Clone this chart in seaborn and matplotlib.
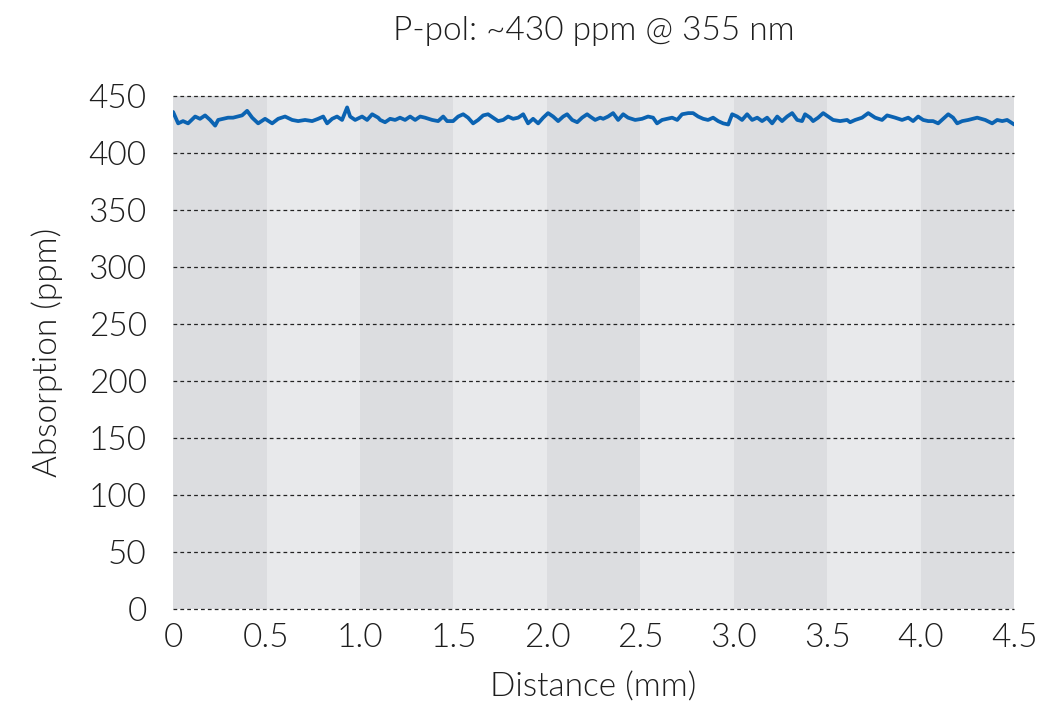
import matplotlib
matplotlib.use("Agg")
import matplotlib.pyplot as plt
import seaborn as sns
import pandas as pd

# Measured absorption profile along the sample
distance_mm = [
    0.000, 0.027, 0.053, 0.080, 0.118, 0.144, 0.171, 0.198, 0.225, 0.241,
    0.268, 0.294, 0.321, 0.369, 0.396, 0.423, 0.455, 0.492, 0.530, 0.562,
    0.599, 0.637, 0.669, 0.706, 0.744, 0.776, 0.803, 0.824, 0.851, 0.877,
    0.904, 0.931, 0.947, 0.974, 1.011, 1.038, 1.065, 1.097,
    1.108, 1.134, 1.161, 1.188, 1.214, 1.241, 1.268, 1.295, 1.322, 1.348,
    1.386, 1.418, 1.445, 1.466, 1.498, 1.525, 1.552, 1.578, 1.605, 1.632,
    1.659, 1.685, 1.712, 1.739, 1.766, 1.792, 1.819, 1.846, 1.873, 1.899,
    1.926, 1.953, 1.980, 2.006, 2.033, 2.060, 2.087, 2.108, 2.135, 2.162,
    2.188, 2.215,
    2.231, 2.258, 2.285, 2.301, 2.327, 2.354, 2.381, 2.408, 2.434, 2.472,
    2.509, 2.541, 2.568, 2.589, 2.616, 2.643, 2.670, 2.697, 2.723, 2.756,
    2.782, 2.809, 2.836, 2.862, 2.889, 2.916, 2.943, 2.970, 2.991, 3.018,
    3.044, 3.071, 3.098, 3.125, 3.151, 3.178, 3.205, 3.232, 3.258, 3.285,
    3.312, 3.339,
    3.365, 3.381, 3.408, 3.424, 3.451, 3.478, 3.505, 3.531, 3.569, 3.606,
    3.622, 3.649, 3.686, 3.719, 3.756, 3.793, 3.820, 3.863, 3.900, 3.933,
    3.959, 3.986, 4.013, 4.040, 4.066, 4.093, 4.120, 4.147, 4.173, 4.195,
    4.222, 4.254, 4.302, 4.345, 4.382, 4.409, 4.436, 4.462, 4.500,
]
absorption_ppm = [
    436, 426, 428, 426, 432, 430, 433, 429, 424, 429,
    430, 431, 431, 433, 437, 431, 426, 430, 426, 430,
    432, 429, 428, 429, 428, 430, 432, 426, 430, 432,
    429, 440, 432, 429, 432, 429, 434, 431,
    429, 427, 430, 429, 431, 429, 432, 429, 432, 431,
    429, 428, 432, 428, 428, 432, 434, 431, 426, 429,
    433, 434, 431, 428, 429, 432, 430, 431, 434, 426,
    430, 426, 431, 435, 432, 428, 432, 434, 429, 427,
    431, 434,
    432, 429, 431, 430, 432, 435, 429, 434, 431, 429,
    430, 432, 431, 426, 429, 430, 431, 429, 434, 435,
    435, 432, 430, 429, 431, 428, 426, 425, 434, 432,
    429, 434, 429, 431, 428, 431, 426, 432, 428, 432,
    435, 429,
    428, 434, 431, 428, 431, 435, 432, 429, 428, 429,
    427, 429, 431, 435, 431, 429, 433, 431, 429, 431,
    428, 432, 429, 428, 428, 426, 430, 434, 431, 426,
    428, 429, 431, 429, 426, 429, 428, 429, 425,
]

y_ticks = [0, 50, 100, 150, 200, 250, 300, 350, 400, 450]
x_ticks = [0, 0.5, 1.0, 1.5, 2.0, 2.5, 3.0, 3.5, 4.0, 4.5]
x_tick_labels = ["0", "0.5", "1.0", "1.5", "2.0", "2.5", "3.0", "3.5", "4.0", "4.5"]

title = "P-pol: ~430 ppm @ 355 nm"
x_label = "Distance (mm)"
y_label = "Absorption (ppm)"

sns.set_style("white")
plt.rcParams["font.family"] = ["Lato", "DejaVu Sans"]
plt.rcParams["font.weight"] = 300
plt.rcParams["axes.labelweight"] = 300
plt.rcParams["axes.titleweight"] = 300

TEXT = "#1e1e1e"
FS = 24

df = pd.DataFrame({"distance": distance_mm, "absorption": absorption_ppm})

fig = plt.figure(figsize=(10.62, 7.07), dpi=100)
ax = fig.add_axes([0.163, 0.1386, 0.792, 0.7256])

# Alternating half-millimetre background bands
band_colors = ["#dcdde0", "#e8e9eb"]
for i in range(len(x_ticks) - 1):
    ax.axvspan(x_ticks[i], x_ticks[i + 1], color=band_colors[i % 2], lw=0, zorder=0)

for yv in y_ticks:
    ax.axhline(yv, color="#222222", lw=0.9, ls=(0, (3, 2.5)), zorder=1, clip_on=False)

line_ax = sns.lineplot(data=df, x="distance", y="absorption", ax=ax, color="#0b63b2",
                       lw=2.7, zorder=3)
for ln in line_ax.get_lines():
    ln.set_solid_joinstyle("round")
    ln.set_solid_capstyle("round")

ax.set_xlim(0, 4.5)
ax.set_ylim(0, 450)
ax.set_xticks(x_ticks)
ax.set_xticklabels(x_tick_labels)
ax.set_yticks(y_ticks)
ax.tick_params(axis="both", labelsize=FS, colors=TEXT)
ax.tick_params(axis="x", length=0, pad=10)
ax.tick_params(axis="y", length=3, width=0.9, color="#222222", pad=16)
for s in ax.spines.values():
    s.set_visible(False)

ax.set_xlabel(x_label, fontsize=FS, color=TEXT, labelpad=14)
ax.set_ylabel(y_label, fontsize=FS, color=TEXT, labelpad=18)
ax.set_title(title, fontsize=FS, color=TEXT, pad=40)

fig.savefig("out.png", dpi=100)
